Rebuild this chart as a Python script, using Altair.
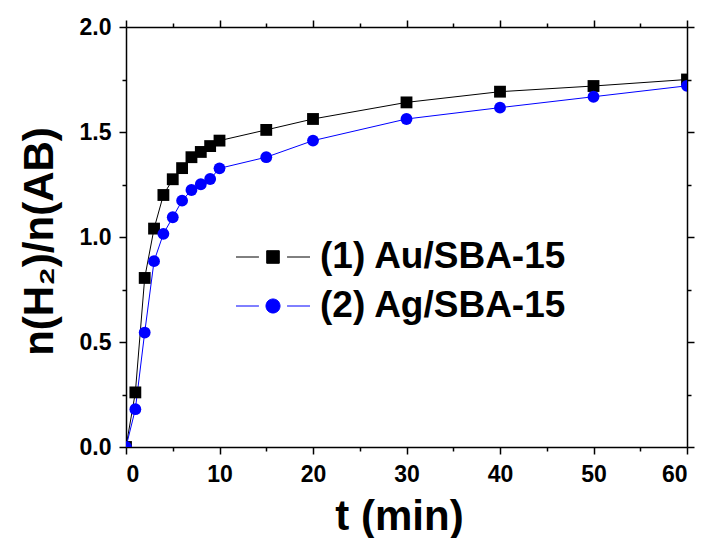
import altair as alt
import pandas as pd

# ---- data ----
t_min = [0, 1, 2, 3, 4, 5, 6, 7, 8, 9, 10, 15, 20, 30, 40, 50, 60]
au_sba15 = [0.0, 0.26, 0.805, 1.04, 1.20, 1.275, 1.328, 1.38, 1.405, 1.433, 1.459,
            1.51, 1.562, 1.641, 1.692, 1.719, 1.750]
ag_sba15 = [0.0, 0.18, 0.545, 0.885, 1.015, 1.094, 1.173, 1.224, 1.251, 1.276, 1.327,
            1.38, 1.459, 1.562, 1.616, 1.668, 1.720]
series_names = ["(1) Au/SBA-15", "(2) Ag/SBA-15"]
series_colors = ["#000000", "#0000ff"]
x_major = [0, 10, 20, 30, 40, 50, 60]
x_minor = [5, 15, 25, 35, 45, 55]
y_major = [0.0, 0.5, 1.0, 1.5, 2.0]
y_minor = [0.25, 0.75, 1.25, 1.75]

rows = []
for name, vals in zip(series_names, [au_sba15, ag_sba15]):
    for t, v in zip(t_min, vals):
        rows.append({"t": t, "v": v, "series": name})
df = pd.DataFrame(rows)

FONT = "Liberation Sans"
xs = alt.Scale(domain=[0, 60], nice=False, zero=False)
ys = alt.Scale(domain=[0, 2], nice=False, zero=False)
cs = alt.Scale(domain=series_names, range=series_colors)

common = dict(grid=False, domainColor="black", domainWidth=1.5, tickColor="black",
              tickWidth=1.5, labelFont=FONT, labelFontWeight="bold", labelFontSize=23,
              labelColor="black")

ax_bottom = alt.Axis(orient="bottom", values=x_major, format="d", tickSize=7,
                     labelPadding=9, title="t (min)", titleFont=FONT, titleFontSize=42,
                     titleFontWeight="bold", titleColor="black", titleX=273, titleY=82,
                     titleBaseline="alphabetic", titleAlign="center", **common)
ax_left = alt.Axis(orient="left", values=y_major, format=".1f", tickSize=7,
                   labelPadding=8, title="n(H₂)/n(AB)", titleFont=FONT, titleFontSize=42,
                   titleFontWeight="bold", titleColor="black", titleX=-65, titleY=214,
                   titleAngle=-90, titleBaseline="bottom", titleAlign="center", **common)
ax_bottom_minor = alt.Axis(orient="bottom", values=x_minor, tickSize=4, labels=False,
                           domain=False, title=None, grid=False, tickColor="black", tickWidth=1.5)
ax_left_minor = alt.Axis(orient="left", values=y_minor, tickSize=4, labels=False,
                         domain=False, title=None, grid=False, tickColor="black", tickWidth=1.5)
ax_top = alt.Axis(orient="top", values=x_major, tickSize=7, labels=False, title=None,
                  grid=False, domainColor="black", domainWidth=1.5, tickColor="black", tickWidth=1.5)
ax_right = alt.Axis(orient="right", values=y_major, tickSize=7, labels=False, title=None,
                    grid=False, domainColor="black", domainWidth=1.5, tickColor="black", tickWidth=1.5)
ax_top_minor = alt.Axis(orient="top", values=x_minor, tickSize=4, labels=False, domain=False,
                        title=None, grid=False, tickColor="black", tickWidth=1.5)
ax_right_minor = alt.Axis(orient="right", values=y_minor, tickSize=4, labels=False, domain=False,
                          title=None, grid=False, tickColor="black", tickWidth=1.5)

sq_path = "M-2,0L-0.76,0M0.76,0L2,0M-0.34,-0.34L0.34,-0.34L0.34,0.34L-0.34,0.34Z"
ci_path = "M-2,0L-0.76,0M0.76,0L2,0M0.38,0A0.38,0.38,0,1,1,-0.38,0A0.38,0.38,0,1,1,0.38,0Z"
shape_expr = f"datum.value === '{series_names[0]}' ? '{sq_path}' : '{ci_path}'"
color_expr = f"datum.value === '{series_names[0]}' ? '{series_colors[0]}' : '{series_colors[1]}'"

legend = alt.Legend(title=None, orient="none", legendX=128, legendY=211, padding=0,
                    labelFont=FONT, labelFontSize=37, labelFontWeight="bold",
                    labelColor="black", labelOffset=28, rowPadding=12, labelLimit=500,
                    symbolSize=1369, symbolType={"expr": shape_expr},
                    symbolStrokeColor={"expr": color_expr},
                    symbolFillColor={"expr": color_expr},
                    symbolStrokeWidth=1, symbolOpacity=1)

base = alt.Chart(df)

mirror_major = base.mark_line(opacity=0).encode(
    x=alt.X("t:Q", scale=xs, axis=ax_top), y=alt.Y("v:Q", scale=ys, axis=ax_right),
    detail="series:N")
mirror_minor = base.mark_line(opacity=0).encode(
    x=alt.X("t:Q", scale=xs, axis=ax_top_minor), y=alt.Y("v:Q", scale=ys, axis=ax_right_minor),
    detail="series:N")
lines = base.mark_line(strokeWidth=1, clip=True).encode(
    x=alt.X("t:Q", scale=xs, axis=ax_bottom),
    y=alt.Y("v:Q", scale=ys, axis=ax_left),
    color=alt.Color("series:N", scale=cs, legend=legend, sort=series_names))
pts_au = base.transform_filter(alt.datum.series == series_names[0]).mark_point(
    shape="square", filled=True, size=140, opacity=1, clip=True, color=series_colors[0]).encode(
    x=alt.X("t:Q", scale=xs, axis=ax_bottom_minor),
    y=alt.Y("v:Q", scale=ys, axis=ax_left_minor))
pts_ag = base.transform_filter(alt.datum.series == series_names[1]).mark_point(
    shape="circle", filled=True, size=140, opacity=1, clip=True, color=series_colors[1]).encode(
    x=alt.X("t:Q", scale=xs, axis=None),
    y=alt.Y("v:Q", scale=ys, axis=None))

chart = alt.layer(mirror_major, mirror_minor, lines, pts_au, pts_ag).resolve_axis(
    x="independent", y="independent"
).properties(
    width=561, height=420,
    autosize=alt.AutoSizeParams(type="none"),
    padding={"left": 118, "top": 19, "right": 10, "bottom": 91},
    background="white",
).configure_view(stroke=None)

chart.save("out.html", embed_options={"renderer": "svg", "actions": False})
